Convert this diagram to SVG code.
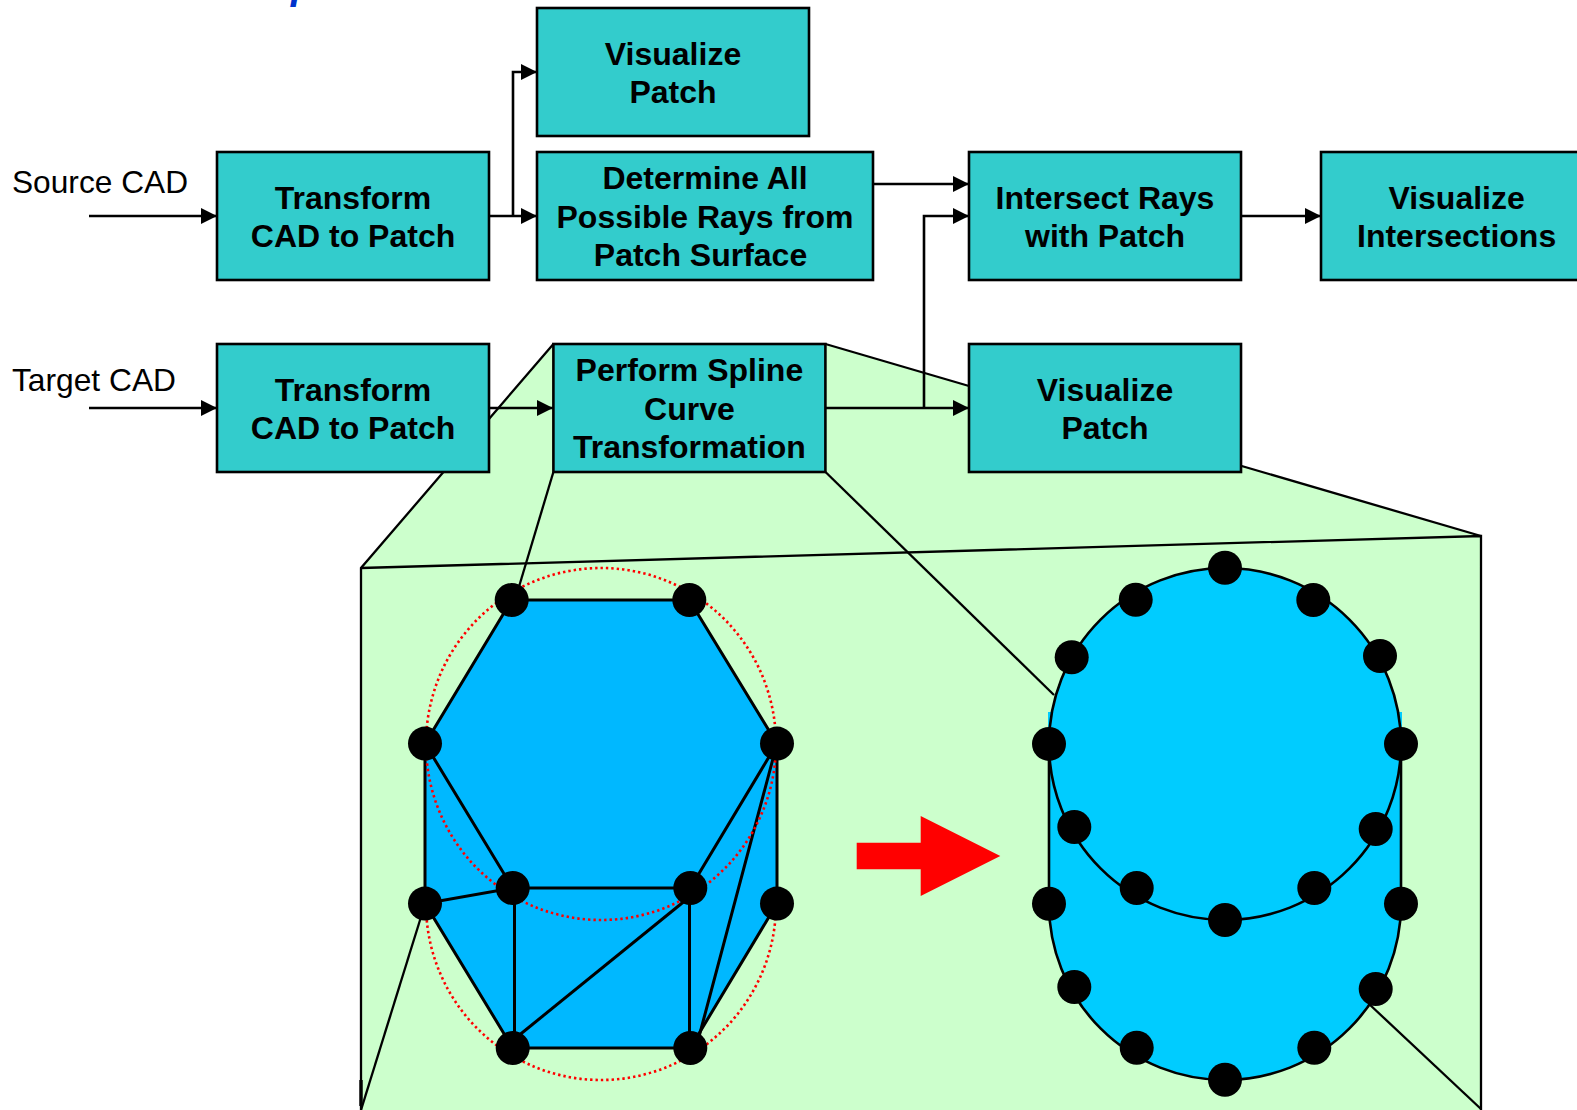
<svg xmlns="http://www.w3.org/2000/svg" width="1577" height="1110" viewBox="0 0 1577 1110">
<style>
text{font-family:"Liberation Sans",Arial,sans-serif;font-size:32px;fill:#000}
.b text,text.b{font-weight:bold;text-anchor:middle}
.box{fill:#33CCCC;stroke:#000;stroke-width:2.6}
.ln{fill:none;stroke:#000;stroke-width:2.6}
.hx{fill:none;stroke:#000;stroke-width:3}
.thin{fill:none;stroke:#000;stroke-width:2.3}
.dot{fill:#000}
.red{fill:none;stroke:#f00;stroke-width:2.6;stroke-dasharray:2.4 3}
</style>
<defs>
<marker id="ah" markerUnits="userSpaceOnUse" markerWidth="16" markerHeight="16" refX="16" refY="8" orient="auto"><path d="M0 0L16 8L0 16Z" fill="#000"/></marker>
<circle id="d" r="17" class="dot"/>
</defs>
<rect width="1577" height="1110" fill="#fff"/>
<text x="291" y="-1" style="font-style:italic;font-weight:bold;fill:#0033CC;font-size:40px">p</text>
<g id="zoom-panel">
<path d="M553.4 344H825.5L969 386L1241.7 466L1481 536V1110H361V568Z" fill="#CCFFCC"/>
<g class="thin">
<path d="M553.4 344L361 568V1110"/>
<path d="M361 568L1481 536V1110"/>
<path d="M825.5 344L969 386"/>
<path d="M1241.7 466L1481 536"/>
<path d="M553.4 472L515 600"/>
<path d="M825.5 472L1054 695"/>
<path d="M1368 1003L1481 1109"/>
<path d="M425 904L361 1110"/>
<path d="M361 1080V1106" stroke-width="3.4"/>
</g>
</g>
<g id="hexagon-mesh">
<path d="M511.7 600H689.3L777 743.6V903.6L690.3 1048H512.7L425 903.6V743.6Z" fill="#00B8FF" stroke="#000" stroke-width="3"/>
<g class="hx">
<path d="M425 743.6L512.7 888H690.3L777 743.6L696 1048"/>
<path d="M425 903.6L512.7 888"/>
<path d="M514.5 888V1048"/>
<path d="M689.5 888V1048"/>
<path d="M692 895L512 1041"/>
</g>
<ellipse class="red" cx="601" cy="744" rx="175" ry="176"/>
<path class="red" d="M426 904A175 176 0 0 0 776 904"/>
<use href="#d" x="511.7" y="600"/><use href="#d" x="689.3" y="600"/>
<use href="#d" x="425" y="743.6"/><use href="#d" x="777" y="743.6"/>
<use href="#d" x="425" y="903.6"/><use href="#d" x="777" y="903.6"/>
<use href="#d" x="512.7" y="888"/><use href="#d" x="690.3" y="888"/>
<use href="#d" x="512.7" y="1048"/><use href="#d" x="690.3" y="1048"/>
</g>
<path id="red-arrow" d="M856.7 842.7H920.7V816L1000.3 856L920.7 896V869.3H856.7Z" fill="#f00"/>
<g id="spline-shape">
<rect x="1048" y="712" width="354" height="192" fill="#00CCFF"/>
<ellipse cx="1225" cy="904" rx="176" ry="176" fill="#00CCFF"/>
<path class="ln" d="M1049 744V904A176 176 0 0 0 1401 904V744"/>
<ellipse class="ln" cx="1225" cy="744" rx="176" ry="176" style="fill:#00CCFF"/>
<use href="#d" x="1225" y="567.8"/><use href="#d" x="1135.7" y="599.8"/><use href="#d" x="1313.3" y="600"/>
<use href="#d" x="1071.7" y="657.3"/><use href="#d" x="1380" y="656"/>
<use href="#d" x="1049" y="743.9"/><use href="#d" x="1401" y="743.9"/>
<use href="#d" x="1074.3" y="827"/><use href="#d" x="1375.7" y="829"/>
<use href="#d" x="1136.7" y="888"/><use href="#d" x="1314.3" y="888"/>
<use href="#d" x="1225" y="920"/>
<use href="#d" x="1049" y="903.7"/><use href="#d" x="1401" y="903.7"/>
<use href="#d" x="1074.3" y="987"/><use href="#d" x="1375.7" y="989"/>
<use href="#d" x="1136.7" y="1047.8"/><use href="#d" x="1314.3" y="1047.8"/>
<use href="#d" x="1225" y="1079.8"/>
</g>
<g id="connectors">
<path class="ln" marker-end="url(#ah)" d="M89 216H217"/>
<path class="ln" marker-end="url(#ah)" d="M89 408H217"/>
<path class="ln" marker-end="url(#ah)" d="M489 216H537"/>
<path class="ln" marker-end="url(#ah)" d="M513 216V72H537"/>
<path class="ln" marker-end="url(#ah)" d="M873 184H969"/>
<path class="ln" marker-end="url(#ah)" d="M924 408V216H969"/>
<path class="ln" marker-end="url(#ah)" d="M825 408H969"/>
<path class="ln" marker-end="url(#ah)" d="M489 408H553"/>
<path class="ln" marker-end="url(#ah)" d="M1241 216H1321"/>
</g>
<text id="label-source" x="12" y="192.7" textLength="176" lengthAdjust="spacingAndGlyphs">Source CAD</text>
<text id="label-target" x="12" y="390.7" textLength="164" lengthAdjust="spacingAndGlyphs">Target CAD</text>
<g id="node-visualize-patch-top" class="b"><rect class="box" x="537" y="8" width="272" height="128"/><text x="673" y="65">Visualize</text><text x="673" y="102.7">Patch</text></g>
<g id="node-transform-source" class="b"><rect class="box" x="217" y="152" width="272" height="128"/><text x="353" y="209.3">Transform</text><text x="353" y="247">CAD to Patch</text></g>
<g id="node-determine-rays" class="b"><rect class="box" x="537" y="152" width="336" height="128"/><text x="705" y="189">Determine All</text><text x="705" y="227.7">Possible Rays from</text><text x="700.5" y="265.7">Patch Surface</text></g>
<g id="node-intersect" class="b"><rect class="box" x="969" y="152" width="272" height="128"/><text x="1105" y="209.3">Intersect Rays</text><text x="1105" y="246.7">with Patch</text></g>
<g id="node-visualize-intersections" class="b"><rect class="box" x="1321" y="152" width="272" height="128"/><text x="1456.6" y="209.3">Visualize</text><text x="1456.6" y="246.7">Intersections</text></g>
<g id="node-transform-target" class="b"><rect class="box" x="217" y="344" width="272" height="128"/><text x="353" y="400.7">Transform</text><text x="353" y="438.7">CAD to Patch</text></g>
<g id="node-spline-transform" class="b"><rect class="box" x="553.4" y="344" width="272" height="128"/><text x="689.4" y="381">Perform Spline</text><text x="689.4" y="420">Curve</text><text x="689.4" y="458">Transformation</text></g>
<g id="node-visualize-patch-bottom" class="b"><rect class="box" x="969" y="344" width="272" height="128"/><text x="1105" y="400.7">Visualize</text><text x="1105" y="439">Patch</text></g>
</svg>
